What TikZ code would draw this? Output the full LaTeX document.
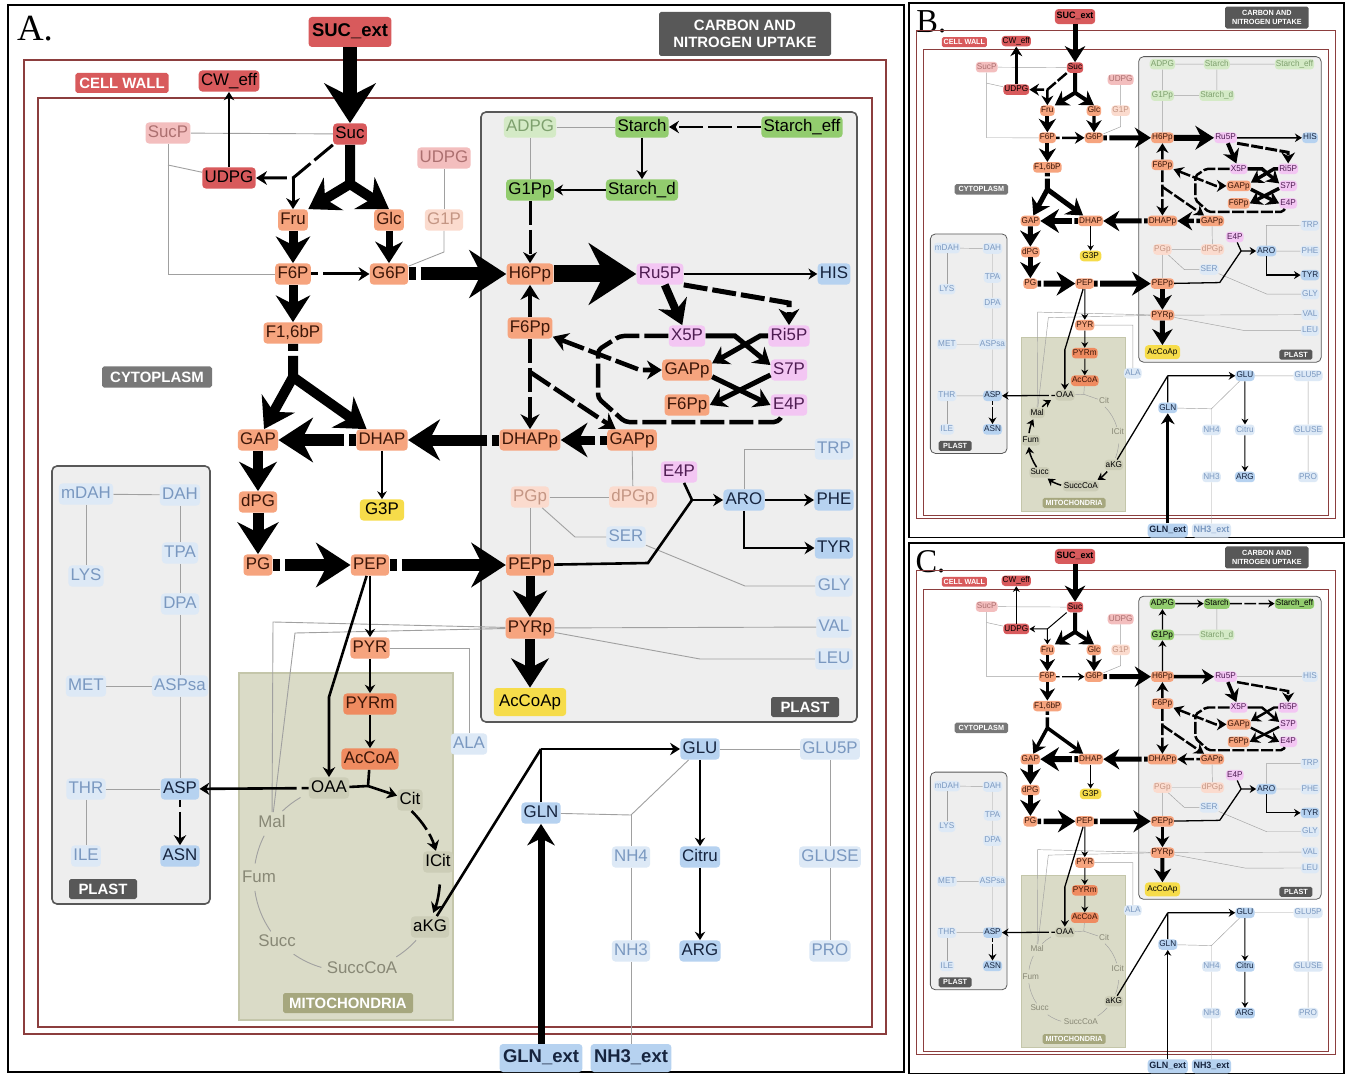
\documentclass[tikz,border=0pt]{standalone}
\usepackage{fontspec}
\setmainfont{Liberation Serif}
\setsansfont{Liberation Sans}
\usetikzlibrary{arrows.meta, positioning, calc}
\definecolor{vermelho}{RGB}{216,90,92}
\definecolor{vermelhoF}{RGB}{243,190,190}
\definecolor{txtVermelhoF}{RGB}{172,112,112}
\definecolor{salmao}{RGB}{246,164,126}
\definecolor{salmaoE}{RGB}{239,139,96}
\definecolor{salmaoF}{RGB}{251,219,206}
\definecolor{txtSalmao}{RGB}{60,22,8}
\definecolor{txtSalmaoF}{RGB}{196,150,132}
\definecolor{verde}{RGB}{146,204,110}
\definecolor{verdeF}{RGB}{212,234,198}
\definecolor{txtVerdeF}{RGB}{126,160,110}
\definecolor{rosa}{RGB}{243,198,243}
\definecolor{txtRosa}{RGB}{78,28,82}
\definecolor{azul}{RGB}{182,210,240}
\definecolor{txtAzul}{RGB}{22,36,62}
\definecolor{azulF}{RGB}{221,233,246}
\definecolor{txtAzulF}{RGB}{122,152,192}
\definecolor{amarelo}{RGB}{246,220,74}
\definecolor{oliva}{RGB}{218,219,199}
\definecolor{olivaB}{RGB}{196,198,170}
\definecolor{olivaN}{RGB}{204,205,183}
\definecolor{olivaR}{RGB}{166,167,126}
\definecolor{txtOlivaF}{RGB}{136,136,118}
\definecolor{plastoC}{RGB}{238,238,238}
\definecolor{cinza}{RGB}{88,88,88}
\definecolor{cinzaC}{RGB}{120,120,120}
\definecolor{fioC}{RGB}{160,160,160}
\definecolor{paredeC}{RGB}{140,62,62}
\newcommand{\pxw}{0.2mm}
\tikzset{
  met/.style={rounded corners=2pt, inner xsep=1.3pt, inner ysep=1.5pt,
    font=\sffamily\fontsize{9.6}{10}\selectfont, text height=7pt, text depth=2pt},
  metV/.style={met, fill=vermelho, text=black},
  metVf/.style={met, fill=vermelhoF, text=txtVermelhoF},
  metS/.style={met, fill=salmao, text=txtSalmao},
  metSe/.style={met, fill=salmaoE, text=txtSalmao},
  metSf/.style={met, fill=salmaoF, text=txtSalmaoF},
  metG/.style={met, fill=verde, text=black},
  metGf/.style={met, fill=verdeF, text=txtVerdeF},
  metR/.style={met, fill=rosa, text=txtRosa},
  metA/.style={met, fill=azul, text=txtAzul},
  metAf/.style={met, fill=azulF, text=txtAzulF},
  metY/.style={met, fill=amarelo, text=black},
  metM/.style={met, fill=olivaN, text=black},
  metMf/.style={met, text=txtOlivaF},
  ext/.style={font=\sffamily\bfseries\fontsize{10.5}{11}\selectfont, minimum height=5.6mm, inner xsep=2pt},
  rotulo/.style={font=\sffamily\bfseries\fontsize{8.5}{10}\selectfont, text=white,
    inner sep=0pt, rounded corners=1pt, align=center},
  fio/.style={draw=fioC, line width=0.9*\pxw},
  traco/.style={line width=#1*\pxw},
  fluxo/.style={line width=#1*\pxw, -{Stealth[length=1.8pt 2.6, width=2pt 3.4]}},
  duplo/.style={line width=#1*\pxw, {Stealth[length=1.8pt 2.6, width=2pt 3.4]}-{Stealth[length=1.8pt 2.6, width=2pt 3.4]}},
  tracos/.style={dash pattern=on 24*\pxw off 5*\pxw},
  quebra/.style={dash pattern=on 7*\pxw off 5*\pxw on 600*\pxw off 5*\pxw},
  parede/.style={draw=paredeC, line width=1.2*\pxw},
  plasto/.style={draw=cinza, fill=plastoC, line width=1.6*\pxw, rounded corners=1mm},
  mitoc/.style={draw=olivaB, fill=oliva, line width=1.2*\pxw}
}

\newcommand{\painel}[3]{%
  \draw[line width=2.4*\pxw] (8,5) rectangle (904,1072);
  \node[font=\rmfamily\fontsize{#3}{#3}\selectfont] (letra) at #2 {#1.};
  \draw[parede] (24,60) rectangle (886,1034);
  \draw[parede] (38,98) rectangle (872,1027);
  \draw[plasto] (481,112) rectangle (857,722);
  \draw[plasto] (52,466) rectangle (210,904);
  \draw[mitoc] (239,673) rectangle (453,1020);
  \coordinate (ciclo) at (347,878);
  \node[rotulo, fill=cinza, minimum width=34.4mm, minimum height=8.8mm] (uptake) at (745,34) {CARBON AND\\NITROGEN UPTAKE};
  \node[rotulo, fill=vermelho, minimum width=18.6mm, minimum height=4mm] (rotParede) at (122,83) {CELL WALL};
  \node[rotulo, fill=cinzaC, minimum width=22mm, minimum height=4.2mm] (rotCito) at (157,377) {CYTOPLASM};
  \node[rotulo, fill=cinza, minimum width=13.6mm, minimum height=4mm] (rotPlasto) at (805,707) {PLAST};
  \node[rotulo, fill=cinza, minimum width=13.6mm, minimum height=4mm] (rotPlastoB) at (103,889) {PLAST};
  \node[rotulo, fill=olivaR, minimum width=26mm, minimum height=4mm] (rotMito) at (348,1003) {MITOCHONDRIA};
  \node[metV, ext, minimum width=16mm, minimum height=6mm] (SUCext) at (350,32) {SUC\_ext};
  \node[metV] (CWeff) at (229,81) {CW\_eff};
  \node[metVf] (SucP) at (168,133) {SucP};
  \node[metV] (Suc) at (350,134) {Suc};
  \node[metV] (UDPG) at (229,178) {UDPG};
  \node[metVf] (UDPGb) at (444,158) {UDPG};
  \node[metS] (Fru) at (293,220) {Fru};
  \node[metS] (Glc) at (389,220) {Glc};
  \node[metSf] (G1P) at (444,220) {G1P};
  \node[metS] (F6P) at (293,274) {F6P};
  \node[metS] (G6P) at (389,274) {G6P};
  \node[metS] (F16bP) at (293,333) {F1,6bP};
  \node[metS] (GAP) at (258,440) {GAP};
  \node[metS] (DHAP) at (382,440) {DHAP};
  \node[metY, inner xsep=3pt] (G3P) at (382,510) {G3P};
  \node[metS] (dPG) at (258,502) {dPG};
  \node[metS] (PG) at (258,565) {PG};
  \node[metS] (PEP) at (370,565) {PEP};
  \node[metS] (PYR) at (370,648) {PYR};
  \node[metSe] (PYRm) at (370,704) {PYRm};
  \node[metSe] (AcCoA) at (370,759) {AcCoA};
  \node[metM] (OAA) at (329,788) {OAA};
  \node[vCit] (Cit) at (410,800) {Cit};
  \node[vICit] (ICit) at (438,862) {ICit};
  \node[metM] (aKG) at (430,927) {aKG};
  \node[vSuccCoA] (SuccCoA) at (362,969) {SuccCoA};
  \node[vSucc] (Succ) at (277,942) {Succ};
  \node[vFum] (Fum) at (259,878) {Fum};
  \node[vMal] (Mal) at (272,823) {Mal};
  \node[metAf] (mDAH) at (86,494) {mDAH};
  \node[metAf] (DAH) at (180,495) {DAH};
  \node[metAf] (LYS) at (86,576) {LYS};
  \node[metAf] (TPA) at (180,553) {TPA};
  \node[metAf] (DPA) at (180,604) {DPA};
  \node[metAf] (MET) at (86,686) {MET};
  \node[metAf] (ASPsa) at (180,686) {ASPsa};
  \node[metAf] (THR) at (86,789) {THR};
  \node[metA] (ASP) at (180,789) {ASP};
  \node[metAf] (ILE) at (86,856) {ILE};
  \node[metA] (ASN) at (180,856) {ASN};
  \node[metAf] (ALA) at (469,744) {ALA};
  \node[metA] (GLN) at (541,813) {GLN};
  \node[metA] (GLU) at (700,749) {GLU};
  \node[metAf] (GLU5P) at (830,749) {GLU5P};
  \node[metAf] (NH4) at (631,857) {NH4};
  \node[vCitru] (Citru) at (700,857) {Citru};
  \node[metAf] (GLUSE) at (830,857) {GLUSE};
  \node[metAf] (NH3) at (631,951) {NH3};
  \node[metA] (ARG) at (700,951) {ARG};
  \node[metAf] (PRO) at (830,951) {PRO};
  \node[metA, ext] (GLNext) at (541,1058) {GLN\_ext};
  \node[vNHext, ext] (NH3ext) at (631,1058) {NH3\_ext};
  \node[vADPG] (ADPG) at (530,127) {ADPG};
  \node[vStarch] (Starch) at (642,127) {Starch};
  \node[vStarcheff] (Starcheff) at (802,127) {Starch\_eff};
  \node[vGPp] (G1Pp) at (530,190) {G1Pp};
  \node[vStarchd] (Starchd) at (642,190) {Starch\_d};
  \node[metS] (H6Pp) at (530,274) {H6Pp};
  \node[metR] (Ru5P) at (660,274) {Ru5P};
  \node[vHIS] (HIS) at (834,274) {HIS};
  \node[metS] (F6Pp) at (530,328) {F6Pp};
  \node[metR] (X5P) at (687,336) {X5P};
  \node[metR] (Ri5P) at (789,336) {Ri5P};
  \node[metS] (GAPpt) at (687,370) {GAPp};
  \node[metR] (S7P) at (789,370) {S7P};
  \node[metS] (F6Ppt) at (687,405) {F6Pp};
  \node[metR] (E4Pt) at (789,405) {E4P};
  \node[metS] (DHAPp) at (530,440) {DHAPp};
  \node[metS] (GAPp) at (632,440) {GAPp};
  \node[metAf] (TRP) at (834,449) {TRP};
  \node[metR] (E4P) at (679,472) {E4P};
  \node[metA] (ARO) at (744,500) {ARO};
  \node[vPHE] (PHE) at (834,500) {PHE};
  \node[metSf] (PGp) at (530,497) {PGp};
  \node[metSf] (dPGp) at (633,497) {dPGp};
  \node[metAf] (SER) at (626,537) {SER};
  \node[metA] (TYR) at (834,548) {TYR};
  \node[metS] (PEPp) at (530,565) {PEPp};
  \node[metAf] (GLY) at (834,586) {GLY};
  \node[metS] (PYRp) at (530,628) {PYRp};
  \node[metAf] (VAL) at (834,627) {VAL};
  \node[metAf] (LEU) at (834,659) {LEU};
  \node[metY, minimum height=5.6mm, inner xsep=3pt] (AcCoAp) at (530,702) {AcCoAp};
  \draw[fio] (SucP) -- (Suc);
  \draw[fio] (SucP) -- (168,274) -- (F6P);
  \draw[fio] (168,165) -- (UDPG);
  \draw[fio] (UDPGb) -- (G1P);
  \draw[fio] (G1P) -- (444,252) -- (G6P);
  \draw[fio] (PGp) -- (dPGp);
  \draw[fio] (dPGp) -- (GAPp);
  \draw[fio] (PGp) -- (PEPp);
  \draw[fio] (PGp) -- (575,537) -- (SER);
  \draw[fio] (SER) -- (745,586) -- (GLY);
  \draw[fio] (ARO) -- (744,449) -- (TRP);
  \draw[fio] (PYRp) -- (VAL);
  \draw[fio] (PYRp) -- (700,659) -- (LEU);
  \draw[fio] (Mal) -- (273,622) -- (PYRp);
  \draw[fio] (Mal) -- (295,633) -- (PYRp);
  \draw[fio] (PYR) -- (469,648) -- (ALA);
  \draw[fio] (GLN) -- (631,815) -- (GLU);
  \draw[fio] (631,815) -- (NH4) -- (NH3) -- (NH3ext);
  \draw[fio] (GLU) -- (GLU5P) -- (GLUSE) -- (PRO);
  \draw[fio] (mDAH) -- (DAH);
  \draw[fio] (mDAH) -- (LYS);
  \draw[fio] (DAH) -- (TPA) -- (DPA) -- (ASPsa) -- (ASP);
  \draw[fio] (MET) -- (ASPsa);
  \draw[fio] (THR) -- (ASP);
  \draw[fio] (THR) -- (ILE);
}

\newcommand{\fluxos}{%
  \draw[fluxo=\wSuc] (SUCext) -- (Suc);
  \draw[fluxo=\wSF] (Suc) -- (350,184) -- (Fru.north east);
  \draw[fluxo=\wSF] (350,184) -- (Glc.north);
  \draw[fluxo=\wSU, vSU] (Suc.south west) -- (293,178) -- (UDPG);
  \draw[fluxo=\wSU, vSU] (293,178) -- (Fru);
  \draw[fluxo=\wCW] (UDPG) -- (CWeff);
  \draw[fluxo=\wFr] (Fru) -- (F6P);
  \draw[fluxo=\wGl] (Glc) -- (G6P);
  \draw[fluxo=\wFF] (F6P) -- (F16bP);
  \draw[fluxo=\wFG, quebra] (F6P) -- (G6P);
  \draw[fluxo=\wGH, quebra] (G6P) -- (H6Pp);
  \draw[fluxo=\wHR] (H6Pp) -- (Ru5P);
  \draw[fluxo=\wRX] (Ru5P) -- (X5P);
  \draw[fluxo=\wRR, tracos] (Ru5P.south east) -- (789,303) -- (Ri5P);
  \draw[fluxo=\wTK] (X5P) -- (735,336) -- (S7P.165);
  \draw[fluxo=\wTK] (Ri5P) -- (760,336) -- (GAPpt.15);
  \draw[fluxo=\wTK] (GAPpt.-15) -- (E4Pt.west);
  \draw[fluxo=\wTK] (S7P.195) -- (F6Ppt.east);
  \draw[duplo=\wFP, tracos] (F6Pp) -- (640,370) -- (GAPpt);
  \draw[traco=\wFP, tracos, rounded corners=4*\pxw] (X5P) -- (620,336) -- (598,350) -- (598,398) -- (625,422) -- (778,422) -- (E4Pt);
  \draw[fluxo=\wFP] (F6Pp) -- (H6Pp);
  \draw[fluxo=\wFP, tracos] (F6Pp) -- (DHAPp);
  \draw[fluxo=\wFP, tracos] (530,372) -- (GAPp);
  \draw[fluxo=\wGD, quebra] (GAPp) -- (DHAPp);
  \draw[fluxo=\wDD, quebra] (DHAPp) -- (DHAP);
  \draw[fluxo=\wDG, quebra] (DHAP) -- (GAP);
  \draw[fluxo=\wFB, quebra] (F16bP) -- (293,377) -- (GAP);
  \draw[fluxo=\wFB] (293,377) -- (DHAP);
  \draw[fluxo=1.8] (DHAP) -- (G3P);
  \draw[fluxo=\wGd] (GAP) -- (dPG);
  \draw[fluxo=\wdP] (dPG) -- (PG);
  \draw[fluxo=\wPP, quebra] (PG) -- (PEP);
  \draw[fluxo=\wPPp, quebra] (PEP) -- (PEPp);
  \draw[fluxo=\wPy] (PEPp) -- (PYRp);
  \draw[fluxo=\wPyA] (PYRp) -- (AcCoAp);
  \draw[traco=2.6] (PEPp) -- (648,563) -- (692,500);
  \draw[traco=2.6] (E4P) -- (692,500);
  \draw[fluxo=2.6] (692,500) -- (ARO);
  \draw[fluxo=2.6] (ARO) |- (TYR);
  \draw[fluxo=2] (PEP) -- (PYR);
  \draw[fluxo=2.6] (PEP) -- (329,697) -- (OAA);
  \draw[fluxo=2] (PYR) -- (PYRm);
  \draw[fluxo=2] (PYRm) -- (AcCoA);
  \draw[fluxo=2.6, quebra] (OAA) -- (ASP);
  \draw[fluxo=2.6, quebra] (ASP) -- (ASN);
  \draw[traco=2.6] (aKG) -- (541,749);
  \draw[traco=2.6] (GLN) -- (541,749);
  \draw[fluxo=2.6] (541,749) -- (GLU);
  \draw[fluxo=\wGN] (GLNext) -- (GLN);
  \draw[fluxo=2] (GLU) -- (Citru);
  \draw[fluxo=2] (Citru) -- (ARG);
}

\begin{document}
\begin{tikzpicture}[x=0.2mm, y=-0.2mm]
\useasboundingbox (0,0) rectangle (1345,1074);
\fill[white] (0,0) rectangle (1345,1074);

\begin{scope}
  \def\wSuc{14}\def\wSF{10}\def\wSU{3}\def\wCW{2}\def\wFr{9}\def\wGl{7}\def\wFG{3}\def\wFF{9}
  \def\wGH{13}\def\wHR{17}\def\wRX{8}\def\wRR{5}\def\wTK{5}\def\wFP{4.5}\def\wGD{9}
  \def\wDD{11}\def\wDG{12}\def\wFB{10}\def\wGd{10}\def\wdP{11}\def\wPP{12}\def\wPPp{12}
  \def\wPy{9}\def\wPyA{10}\def\wGN{7}
  \tikzset{vADPG/.style={metGf}, vStarch/.style={metG}, vStarcheff/.style={metG},
    vGPp/.style={metG}, vStarchd/.style={metG}, vHIS/.style={metA}, vPHE/.style={metA},
    vCitru/.style={metA}, vNHext/.style={metA}, vCit/.style={metM}, vICit/.style={metM},
    vMal/.style={metMf}, vFum/.style={metMf}, vSucc/.style={metMf}, vSuccCoA/.style={metMf},
    vSU/.style={tracos}}
  \painel{A}{(35,29)}{21}
  \fluxos
  \draw[fluxo=2.2] (Ru5P) -- (HIS);
  \draw[fluxo=2.6] (ARO) -- (PHE);
  \draw[fio] (ADPG) -- (Starch);
  \draw[fio] (ADPG) -- (G1Pp);
  \draw[fluxo=2.6, tracos] (Starcheff) -- (Starch);
  \draw[fluxo=2.2] (Starch) -- (Starchd);
  \draw[fluxo=2.2] (Starchd) -- (G1Pp);
  \draw[fluxo=3, tracos] (G1Pp) -- (H6Pp);
  \draw[traco=2.6] (AcCoA) -- (368,786);
  \draw[traco=2.6] (OAA) -- (368,786);
  \draw[fluxo=2.6] (368,786) -- (Cit);
  \draw[fluxo=2.6, tracos] (ciclo) ++(-46:93) arc[start angle=-46, end angle=-17, radius=93];
  \draw[fluxo=2.6, tracos] (ciclo) ++(4:93) arc[start angle=4, end angle=22, radius=93];
  \draw[fio] (ciclo) ++(42:93) arc[start angle=42, end angle=58, radius=93];
  \draw[fio] (ciclo) ++(106:93) arc[start angle=106, end angle=125, radius=93];
  \draw[fio] (ciclo) ++(145:93) arc[start angle=145, end angle=172, radius=93];
  \draw[fio] (ciclo) ++(189:93) arc[start angle=189, end angle=207, radius=93];
  \draw[fio] (ciclo) ++(226:93) arc[start angle=226, end angle=240, radius=93];
\end{scope}

\begin{scope}[shift={(909,3)}, xscale=0.4855, yscale=0.501, shift={(-8,-5)}, transform shape]
  \def\pxw{0.099mm}
  \def\wSuc{10}\def\wSF{8}\def\wSU{5}\def\wCW{5}\def\wFr{8}\def\wGl{7}\def\wFG{5}\def\wFF{8}
  \def\wGH{10}\def\wHR{12}\def\wRX{8}\def\wRR{6}\def\wTK{7}\def\wFP{5}\def\wGD{9}
  \def\wDD{10}\def\wDG{12}\def\wFB{10}\def\wGd{10}\def\wdP{10}\def\wPP{12}\def\wPPp{12}
  \def\wPy{9}\def\wPyA{10}\def\wGN{6}
  \tikzset{vADPG/.style={metGf}, vStarch/.style={metGf}, vStarcheff/.style={metGf},
    vGPp/.style={metGf}, vStarchd/.style={metGf}, vHIS/.style={metA}, vPHE/.style={metAf},
    vCitru/.style={metAf}, vNHext/.style={metAf}, vCit/.style={metMf}, vICit/.style={metMf},
    vMal/.style={metM}, vFum/.style={metM}, vSucc/.style={metM}, vSuccCoA/.style={metM},
    vSU/.style={tracos}}
  \painel{B}{(54,42)}{38}
  \fluxos
  \draw[fluxo=3] (Ru5P) -- (HIS);
  \draw[fio] (ARO) -- (PHE);
  \draw[fio] (ADPG) -- (Starch) -- (Starcheff);
  \draw[fio] (Starch) -- (Starchd) -- (G1Pp);
  \draw[fio] (ADPG) -- (G1Pp) -- (H6Pp);
  \draw[fio] (AcCoA) -- (368,786);
  \draw[fio] (OAA) -- (368,786) -- (Cit);
  \draw[fio] (ciclo) ++(-46:93) arc[start angle=-46, end angle=-17, radius=93];
  \draw[fio] (ciclo) ++(4:93) arc[start angle=4, end angle=22, radius=93];
  \draw[fluxo=3] (ciclo) ++(42:93) arc[start angle=42, end angle=58, radius=93];
  \draw[fluxo=3] (ciclo) ++(106:93) arc[start angle=106, end angle=125, radius=93];
  \draw[fluxo=3] (ciclo) ++(145:93) arc[start angle=145, end angle=172, radius=93];
  \draw[fluxo=3] (ciclo) ++(189:93) arc[start angle=189, end angle=207, radius=93];
  \draw[fluxo=3] (ciclo) ++(226:93) arc[start angle=226, end angle=240, radius=93];
\end{scope}

\begin{scope}[shift={(909,543)}, xscale=0.4855, yscale=0.497, shift={(-8,-5)}, transform shape]
  \def\pxw{0.099mm}
  \def\wSuc{10}\def\wSF{8}\def\wSU{2}\def\wCW{2}\def\wFr{7}\def\wGl{7}\def\wFG{2.6}\def\wFF{7}
  \def\wGH{10}\def\wHR{7}\def\wRX{7}\def\wRR{5}\def\wTK{5}\def\wFP{5}\def\wGD{5}
  \def\wDD{10}\def\wDG{12}\def\wFB{7}\def\wGd{10}\def\wdP{10}\def\wPP{11}\def\wPPp{11}
  \def\wPy{6}\def\wPyA{8}\def\wGN{2}
  \tikzset{vADPG/.style={metG}, vStarch/.style={metG}, vStarcheff/.style={metG},
    vGPp/.style={metG}, vStarchd/.style={metGf}, vHIS/.style={metAf}, vPHE/.style={metAf},
    vCitru/.style={metA}, vNHext/.style={metA}, vCit/.style={metMf}, vICit/.style={metMf},
    vMal/.style={metMf}, vFum/.style={metMf}, vSucc/.style={metMf}, vSuccCoA/.style={metMf},
    vSU/.style={}}
  \painel{C}{(52,42)}{38}
  \fluxos
  \draw[fio] (Ru5P) -- (HIS);
  \draw[fio] (ARO) -- (PHE);
  \draw[fluxo=2.6] (H6Pp) -- (G1Pp);
  \draw[fluxo=2.6] (G1Pp) -- (ADPG);
  \draw[fluxo=2.6] (ADPG) -- (Starch);
  \draw[fluxo=2.6, tracos] (Starch) -- (Starcheff);
  \draw[fio] (Starch) -- (Starchd) -- (G1Pp);
  \draw[fio] (AcCoA) -- (368,786);
  \draw[fio] (OAA) -- (368,786) -- (Cit);
  \draw[fio] (ciclo) ++(-46:93) arc[start angle=-46, end angle=-17, radius=93];
  \draw[fio] (ciclo) ++(4:93) arc[start angle=4, end angle=22, radius=93];
  \draw[fio] (ciclo) ++(42:93) arc[start angle=42, end angle=58, radius=93];
  \draw[fio] (ciclo) ++(106:93) arc[start angle=106, end angle=125, radius=93];
  \draw[fio] (ciclo) ++(145:93) arc[start angle=145, end angle=172, radius=93];
  \draw[fio] (ciclo) ++(189:93) arc[start angle=189, end angle=207, radius=93];
  \draw[fio] (ciclo) ++(226:93) arc[start angle=226, end angle=240, radius=93];
\end{scope}
\end{tikzpicture}
\end{document}
